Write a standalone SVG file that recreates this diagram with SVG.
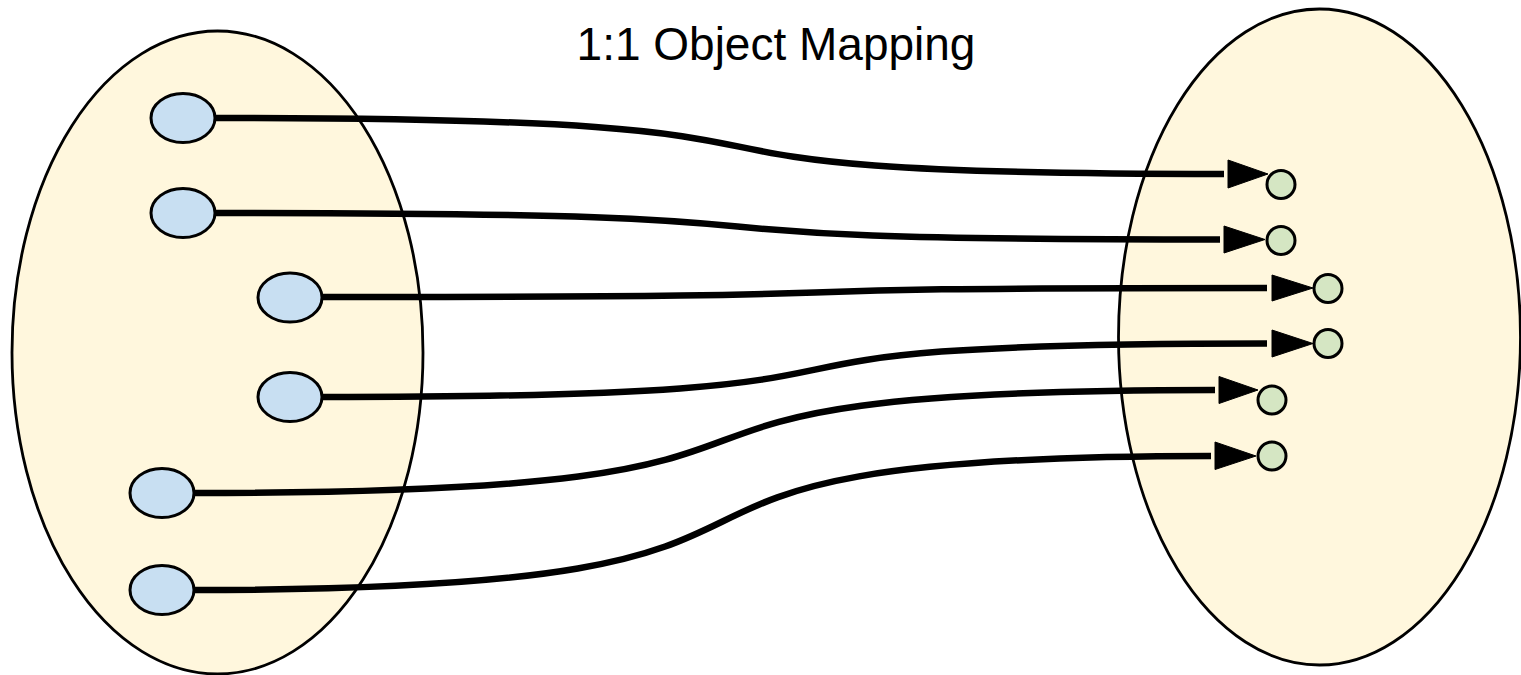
<svg xmlns="http://www.w3.org/2000/svg" width="1521" height="675" viewBox="0 0 1521 675">
<style>
.set{fill:#fff7dd;stroke:#000;stroke-width:2.8}
.src{fill:#c8dff2;stroke:#000;stroke-width:3}
.dst{fill:#d5e6c3;stroke:#000;stroke-width:3}
.edge{fill:none;stroke:#000;stroke-width:6.5}
.head{fill:#000;stroke:#000;stroke-width:1}
.title{font-family:"Liberation Sans",Arial,sans-serif;font-size:46px;fill:#000}
</style>
<rect width="1521" height="675" fill="#fff"/>
<g id="left-set"><ellipse class="set" cx="217.5" cy="352.5" rx="205.5" ry="321.5"/></g>
<g id="right-set"><ellipse class="set" cx="1319.5" cy="337" rx="201" ry="328"/></g>
<g id="title"><text class="title" x="776" y="60" text-anchor="middle">1:1 Object Mapping</text></g>
<g id="connectors">
<path class="edge" d="M215,118 C973,118 510,174 1224,174"/>
<polygon class="head" points="1228,160 1268,174 1228,188"/>
<path class="edge" d="M215,213 C971,213 509,239.5 1220,239.5"/>
<polygon class="head" points="1224,226 1265,239.5 1224,253"/>
<path class="edge" d="M322,297 C1035,297 600,288 1267,288"/>
<polygon class="head" points="1272,275 1313,288 1272,301"/>
<path class="edge" d="M322,397 C1035,397 600,343.5 1267,343.5"/>
<polygon class="head" points="1272,330 1313,343.5 1272,357"/>
<path class="edge" d="M194,493 C960,493 492,390 1215,390"/>
<polygon class="head" points="1219,376.5 1258,390 1219,403.5"/>
<path class="edge" d="M194,590 C959,590 491,456 1211,456"/>
<polygon class="head" points="1215,442 1256,456 1215,469.5"/>
</g>
<g id="src1"><ellipse class="src" cx="183" cy="118" rx="32" ry="24.5"/></g>
<g id="src2"><ellipse class="src" cx="183" cy="213" rx="32" ry="24.5"/></g>
<g id="src3"><ellipse class="src" cx="290" cy="297.5" rx="32" ry="24.5"/></g>
<g id="src4"><ellipse class="src" cx="290" cy="397" rx="32" ry="24.5"/></g>
<g id="src5"><ellipse class="src" cx="162" cy="493" rx="32" ry="24.5"/></g>
<g id="src6"><ellipse class="src" cx="162" cy="590" rx="32" ry="24.5"/></g>
<g id="dst1"><circle class="dst" cx="1281" cy="184.5" r="14"/></g>
<g id="dst2"><circle class="dst" cx="1281" cy="240.5" r="14"/></g>
<g id="dst3"><circle class="dst" cx="1328" cy="288.5" r="14"/></g>
<g id="dst4"><circle class="dst" cx="1328" cy="343.5" r="14"/></g>
<g id="dst5"><circle class="dst" cx="1272" cy="400" r="14"/></g>
<g id="dst6"><circle class="dst" cx="1272" cy="456" r="14"/></g>
</svg>
